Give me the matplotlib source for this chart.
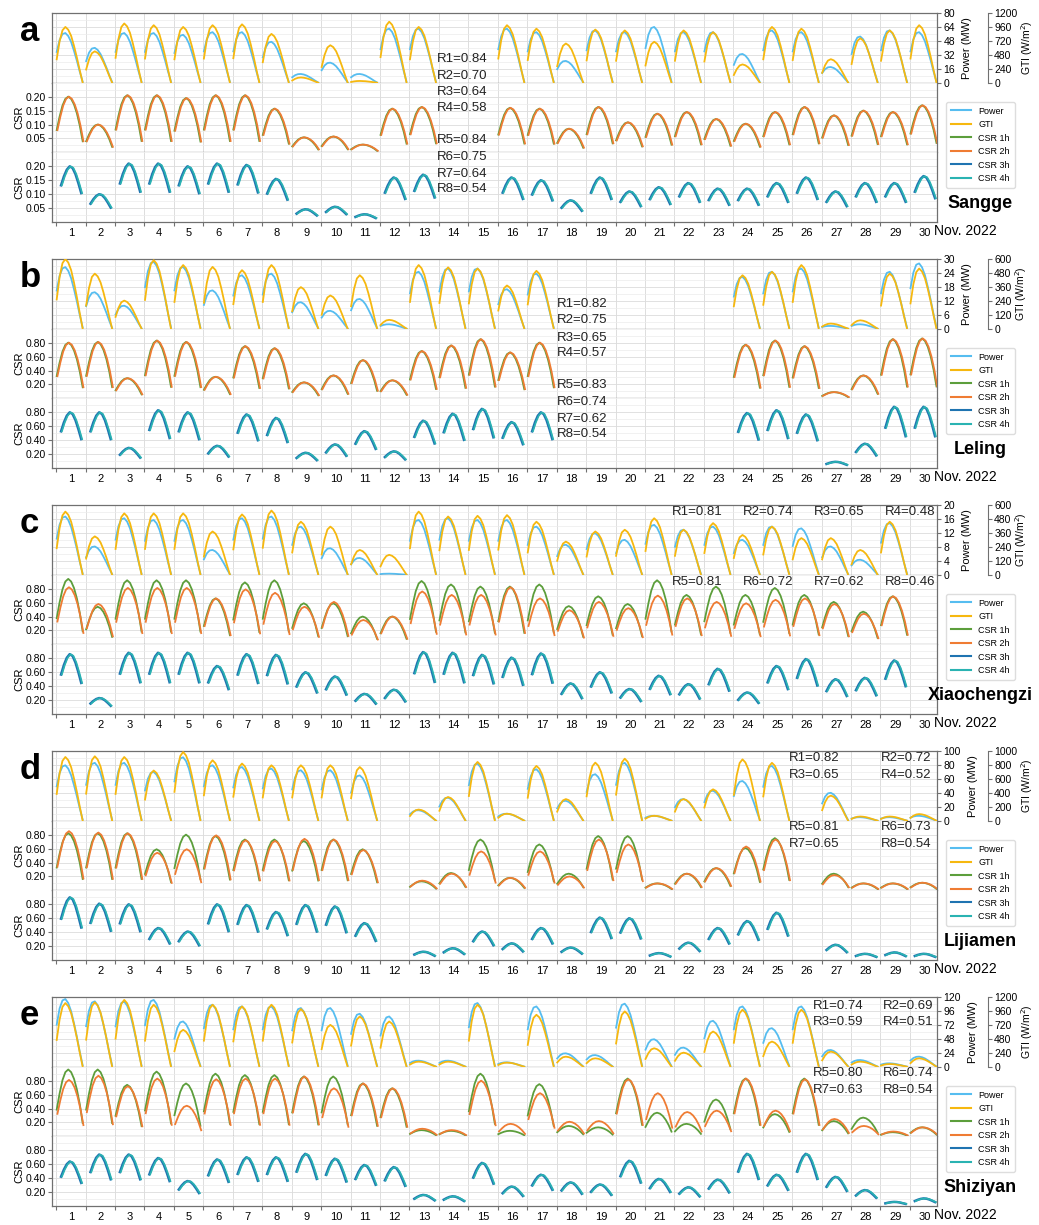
import numpy as np
import matplotlib
matplotlib.use('Agg')
import matplotlib.pyplot as plt
from matplotlib.ticker import MultipleLocator, FixedLocator, NullFormatter, FormatStrFormatter, FixedFormatter
from matplotlib.lines import Line2D

plt.rcParams['font.family'] = ['Liberation Sans', 'DejaVu Sans']

nan = np.nan
days = list(range(1, 31))

# hour of the day of the samples (1h/2h series start at sunrise, 3h/4h start later)
hours = [8, 9, 10, 11, 12, 13, 14, 15, 16, 17]
hours_late = [9.5, 10.5, 11.5, 12.5, 13.5, 14.5, 15.5, 16.5]

# typical daily shape, read off the clear days (fraction of that day's peak)
power_shape = [0.62, 0.86, 0.98, 1.0, 0.94, 0.82, 0.64, 0.44, 0.22, 0.02]
gti_shape = [0.42, 0.74, 0.94, 1.0, 0.95, 0.84, 0.66, 0.45, 0.22, 0.0]
csr12_shape = [0.4, 0.64, 0.84, 0.96, 1.0, 0.96, 0.86, 0.7, 0.48, 0.2]
csr34_shape = [0.66, 0.82, 0.94, 1.0, 0.97, 0.86, 0.7, 0.52]

# ---- a: Sangge (daily peak values) ----
sangge_power = [57, 40, 57, 57, 55, 58, 58, 47, 10, 23, 10, 62, 62, nan, nan,
                62, 58, 25, 60, 58, 64, 58, 58, 33, 60, 58, 18, 53, 60, 58]
sangge_gti = [960, 540, 1020, 990, 960, 990, 1005, 840, 90, 645, 30, 1050, 960, nan, nan,
              990, 930, 675, 915, 900, 705, 900, 870, 315, 960, 930, 405, 765, 900, 990]
sangge_csr1 = [0.20, 0.10, 0.205, 0.205, 0.195, 0.205, 0.205, 0.157, 0.054, 0.057, 0.028, 0.157, 0.163, nan, nan,
               0.16, 0.157, 0.085, 0.163, 0.108, 0.139, 0.145, 0.12, 0.103, 0.145, 0.163, 0.133, 0.15, 0.145, 0.169]
sangge_csr2 = [0.20, 0.10, 0.205, 0.205, 0.195, 0.205, 0.205, 0.157, 0.054, 0.057, 0.028, 0.157, 0.163, nan, nan,
               0.16, 0.157, 0.085, 0.163, 0.108, 0.139, 0.145, 0.12, 0.103, 0.145, 0.163, 0.133, 0.15, 0.145, 0.169]
sangge_csr3 = [0.20, 0.10, 0.21, 0.21, 0.20, 0.21, 0.205, 0.155, 0.046, 0.055, 0.028, 0.16, 0.17, nan, nan,
               0.16, 0.15, 0.078, 0.16, 0.11, 0.125, 0.14, 0.12, 0.12, 0.14, 0.16, 0.11, 0.14, 0.14, 0.165]
sangge_csr4 = sangge_csr3

# ---- b: Leling ----
leling_power = [26.5, 15.7, 9.9, 28.8, 26.6, 16.5, 23, 23.7, 11.4, 7.7, 12.8, 1.9, 24.5, 25.9, 25.9,
                17, 23.7, nan, nan, nan, nan, nan, nan, 22.3, 24.5, 25.9, 1.2, 1.9, 24.5, 28.1]
leling_gti = [600, 474, 242, 590, 548, 532, 504, 548, 358, 286, 460, 76, 548, 528, 518,
              372, 498, nan, nan, nan, nan, nan, nan, 460, 490, 548, 44, 72, 474, 518]
leling_csr1 = [0.80, 0.81, 0.29, 0.83, 0.81, 0.31, 0.75, 0.72, 0.23, 0.33, 0.55, 0.26, 0.68, 0.76, 0.85,
               0.66, 0.80, nan, nan, nan, nan, nan, nan, 0.77, 0.83, 0.75, 0.09, 0.33, 0.85, 0.86]
leling_csr2 = leling_csr1
leling_csr3 = [0.80, 0.80, 0.29, 0.83, 0.80, 0.32, 0.77, 0.72, 0.22, 0.34, 0.53, 0.24, 0.68, 0.78, 0.85,
               0.66, 0.80, nan, nan, nan, nan, nan, nan, 0.79, 0.83, 0.77, 0.09, 0.35, 0.88, 0.88]
leling_csr4 = leling_csr3

# ---- c: Xiaochengzi ----
xiao_power = [16.7, 8.1, 16.2, 15.7, 15.7, 7.1, 16.2, 16.7, 13.8, 7.6, 4.8, 0.3, 15.7, 16.2, 15.7,
              15.7, 13.8, 8.6, 11.9, 10, 14.3, 12.9, 13.8, 10, 13.8, 13.3, 8.1, 4.3, 14.8, nan]
xiao_gti = [543, 330, 528, 528, 528, 372, 519, 552, 456, 414, 213, 171, 543, 501, 507,
            513, 456, 285, 372, 387, 486, 387, 444, 342, 414, 315, 315, 213, 456, nan]
xiao_csr1 = [0.94, 0.54, 0.92, 0.92, 0.92, 0.66, 0.89, 0.92, 0.59, 0.59, 0.40, 0.40, 0.91, 0.86, 0.83,
             0.83, 0.86, 0.55, 0.69, 0.58, 0.92, 0.71, 0.83, 0.71, 0.81, 0.71, 0.61, 0.47, 0.69, nan]
xiao_csr2 = [0.82, 0.58, 0.81, 0.81, 0.81, 0.66, 0.79, 0.74, 0.54, 0.61, 0.35, 0.40, 0.76, 0.71, 0.71,
             0.82, 0.66, 0.49, 0.61, 0.52, 0.70, 0.66, 0.61, 0.59, 0.64, 0.66, 0.58, 0.44, 0.69, nan]
xiao_csr3 = [0.86, 0.23, 0.88, 0.88, 0.88, 0.69, 0.86, 0.85, 0.60, 0.54, 0.29, 0.35, 0.89, 0.88, 0.85,
             0.81, 0.87, 0.44, 0.60, 0.36, 0.55, 0.43, 0.65, 0.31, 0.69, 0.79, 0.50, 0.52, 0.77, nan]
xiao_csr4 = xiao_csr3

# ---- d: Lijiamen ----
lijia_power = [79.5, 83, 83, 70, 91, 79.5, 77, 74.8, 72.4, 72.4, 65, nan, 15, 33, 81.9,
               10, 73.8, 28.6, 66.7, 83, 7, 31, 43, 57, 78.6, nan, 40, 5, 5, 7]
lijia_gti = [914, 924, 914, 720, 986, 867, 820, 795, 795, 795, 770, nan, 160, 340, 843,
             100, 786, 310, 833, 890, 70, 310, 450, 880, 830, nan, 360, 60, 60, 95]
lijia_csr1 = [0.82, 0.82, 0.82, 0.59, 0.80, 0.78, 0.73, 0.73, 0.71, 0.73, 0.59, nan, 0.13, 0.25, 0.73,
              0.18, 0.66, 0.24, 0.78, 0.78, 0.10, 0.24, 0.32, 0.61, 0.75, nan, 0.24, 0.10, 0.10, 0.11]
lijia_csr2 = [0.85, 0.83, 0.82, 0.54, 0.59, 0.79, 0.72, 0.71, 0.74, 0.73, 0.58, nan, 0.14, 0.24, 0.56,
              0.18, 0.56, 0.20, 0.73, 0.66, 0.10, 0.24, 0.32, 0.63, 0.73, nan, 0.22, 0.10, 0.10, 0.11]
lijia_csr3 = [0.90, 0.81, 0.80, 0.46, 0.41, 0.80, 0.79, 0.69, 0.79, 0.77, 0.53, nan, 0.12, 0.17, 0.41,
              0.24, 0.46, 0.18, 0.61, 0.60, 0.10, 0.25, 0.46, 0.56, 0.68, nan, 0.22, 0.09, 0.11, 0.09]
lijia_csr4 = lijia_csr3

# ---- e: Shiziyan ----
shizi_power = [116.5, 112.5, 112, 115, 77.9, 106.7, 103.8, 103.8, 101, 101, 91.2, 86.5, 10.4, 10.4, 109.6,
               7.5, 103.8, 23, 20, 108.5, 47.3, 32.9, 79, 103.8, 66.3, 103.8, 28.8, 11.5, 5.8, 17.3]
shizi_gti = [1096, 1108, 1150, 1067, 635, 1067, 1038, 1067, 992, 720, 865, 779, 87, 87, 1067,
             70, 894, 173, 144, 952, 317, 242, 606, 980, 433, 980, 260, 87, 46, 144]
shizi_csr1 = [0.96, 0.96, 0.74, 0.93, 0.76, 0.90, 0.88, 0.88, 0.86, 0.86, 0.76, 0.69, 0.09, 0.08, 0.90,
              0.08, 0.75, 0.15, 0.13, 0.83, 0.34, 0.18, 0.53, 0.83, 0.32, 0.83, 0.22, 0.27, 0.06, 0.13]
shizi_csr2 = [0.81, 0.87, 0.72, 0.83, 0.44, 0.82, 0.83, 0.83, 0.86, 0.69, 0.76, 0.69, 0.11, 0.09, 0.80,
              0.18, 0.62, 0.21, 0.22, 0.82, 0.62, 0.35, 0.37, 0.83, 0.37, 0.82, 0.25, 0.15, 0.07, 0.13]
shizi_csr3 = [0.64, 0.74, 0.74, 0.69, 0.36, 0.67, 0.70, 0.70, 0.75, 0.68, 0.59, 0.56, 0.16, 0.14, 0.62,
              0.28, 0.45, 0.34, 0.31, 0.65, 0.39, 0.27, 0.38, 0.75, 0.45, 0.75, 0.42, 0.23, 0.06, 0.11]
shizi_csr4 = shizi_csr3

station_names = ['Sangge', 'Leling', 'Xiaochengzi', 'Lijiamen', 'Shiziyan']
panel_letters = ['a', 'b', 'c', 'd', 'e']
power_max = [80, 30, 20, 100, 120]
gti_max = [1200, 600, 600, 1000, 1200]
csr_ticks = [[0.05, 0.10, 0.15, 0.20]] + [[0.20, 0.40, 0.60, 0.80]] * 4
csr_top = [0.25, 1.0, 1.0, 1.0, 1.0]
r_values = [
    [0.84, 0.70, 0.64, 0.58, 0.84, 0.75, 0.64, 0.54],
    [0.82, 0.75, 0.65, 0.57, 0.83, 0.74, 0.62, 0.54],
    [0.81, 0.74, 0.65, 0.48, 0.81, 0.72, 0.62, 0.46],
    [0.82, 0.72, 0.65, 0.52, 0.81, 0.73, 0.65, 0.54],
    [0.74, 0.69, 0.59, 0.51, 0.80, 0.74, 0.63, 0.54],
]
data = [
    (sangge_power, sangge_gti, sangge_csr1, sangge_csr2, sangge_csr3, sangge_csr4),
    (leling_power, leling_gti, leling_csr1, leling_csr2, leling_csr3, leling_csr4),
    (xiao_power, xiao_gti, xiao_csr1, xiao_csr2, xiao_csr3, xiao_csr4),
    (lijia_power, lijia_gti, lijia_csr1, lijia_csr2, lijia_csr3, lijia_csr4),
    (shizi_power, shizi_gti, shizi_csr1, shizi_csr2, shizi_csr3, shizi_csr4),
]

# R text positions in pixels (left x, center y)
r_pos = [
    [(437, 59), (437, 76), (437, 92), (437, 108), (437, 140), (437, 157), (437, 174), (437, 189)],
    [(557, 304), (557, 320), (557, 338), (557, 353), (557, 385), (557, 402), (557, 419), (557, 434)],
    [(672, 512), (743, 512), (814, 512), (885, 512), (672, 582), (743, 582), (814, 582), (885, 582)],
    [(789, 758), (881, 758), (789, 775), (881, 775), (789, 827), (881, 827), (789, 844), (881, 844)],
    [(813, 1006), (883, 1006), (813, 1022), (883, 1022), (813, 1073), (883, 1073), (813, 1090), (883, 1090)],
]

c_power = '#56bdf0'
c_gti = '#f6b80f'
c_csr1 = '#5c9e3b'
c_csr2 = '#ef7c33'
c_csr3 = '#1f74b1'
c_csr4 = '#2ab3b2'

W, H = 1039, 1225
fig = plt.figure(figsize=(W / 100, H / 100), dpi=100)


def fx(x):
    return x / W


def fy(y):
    return 1 - y / H


def day_series(peaks, shape, hrs, shift=0.0):
    # one segment per day, separated by nan so days are not joined
    xs, ys = [], []
    for d, pk in zip(days, peaks):
        for h, s in zip(hrs, shape):
            xs.append(d - 1 + (h - 7.8) / 10.2 + shift)
            ys.append(pk * s)
        xs.append(nan)
        ys.append(nan)
    return xs, ys


left_px, right_px = 52, 937
panel_top = [13, 259, 505, 751, 997]
sub_h = 69.7
spine_c = '#707070'

for i in range(5):
    power, gti, csr1, csr2, csr3, csr4 = data[i]
    top = panel_top[i]
    axs = []
    for k in range(3):
        ax = fig.add_axes([fx(left_px), fy(top + (k + 1) * sub_h),
                           (right_px - left_px) / W, sub_h / H])
        ax.set_xlim(-0.14, 29.92)
        ax.xaxis.set_major_locator(FixedLocator(np.arange(0, 31)))
        ax.xaxis.set_minor_locator(FixedLocator(np.arange(0.5, 30, 1)))
        ax.xaxis.set_major_formatter(NullFormatter())
        ax.grid(True, which='major', axis='x', color='#d8d8d8', lw=0.6)
        ax.grid(True, which='major', axis='y', color='#dcdcdc', lw=0.6)
        ax.grid(True, which='minor', axis='y', color='#ececec', lw=0.5)
        ax.set_axisbelow(True)
        for s in ax.spines.values():
            s.set_color(spine_c)
            s.set_linewidth(0.9)
        if k < 2:
            ax.tick_params(axis='x', which='both', length=0, labelbottom=False)
        axs.append(ax)

    # top: power (ticks on right) and GTI on an offset right axis
    ax = axs[0]
    tw = ax.twinx()
    xp, yp = day_series(power, power_shape, hours)
    ax.plot(xp, yp, color=c_power, lw=1.3)
    ax.set_ylim(0, power_max[i])
    ax.yaxis.set_major_locator(MultipleLocator(power_max[i] / 5))
    ax.yaxis.set_minor_locator(MultipleLocator(power_max[i] / 10))
    ax.yaxis.set_major_formatter(FormatStrFormatter('%g'))
    ax.yaxis.tick_right()
    ax.tick_params(axis='y', which='major', left=False, labelleft=False, right=True, labelright=True,
                   labelsize=7.5, length=3, pad=1.5, color=spine_c)
    ax.tick_params(axis='y', which='minor', left=False, right=False, length=0)
    ax.yaxis.set_label_position('right')
    ax.set_ylabel('Power (MW)', fontsize=8, labelpad=5)
    ax.spines['bottom'].set_color('#606060')

    xg, yg = day_series(gti, gti_shape, hours)
    tw.plot(xg, yg, color=c_gti, lw=1.3)
    tw.set_ylim(0, gti_max[i])
    tw.yaxis.set_major_locator(MultipleLocator(gti_max[i] / 5))
    tw.yaxis.set_major_formatter(FormatStrFormatter('%g'))
    tw.spines['right'].set_position(('outward', 37))
    for name in ['left', 'top', 'bottom']:
        tw.spines[name].set_visible(False)
    tw.spines['right'].set_color(spine_c)
    tw.spines['right'].set_linewidth(0.8)
    tw.tick_params(axis='y', labelsize=7.5, length=3, pad=1.2, color=spine_c)
    tw.set_ylabel('GTI (W/m$^2$)', fontsize=7.5, labelpad=1)

    # middle: CSR 1h / 2h
    ax = axs[1]
    x1, y1 = day_series(csr1, csr12_shape, hours)
    x2, y2 = day_series(csr2, csr12_shape, hours, shift=0.025)
    ax.plot(x1, y1, color=c_csr1, lw=1.3)
    ax.plot(x2, y2, color=c_csr2, lw=1.3)
    ax.spines['top'].set_visible(False)
    ax.spines['bottom'].set_linestyle((0, (1, 1)))

    # bottom: CSR 3h / 4h
    ax = axs[2]
    x3, y3 = day_series(csr3, csr34_shape, hours_late)
    x4, y4 = day_series(csr4, csr34_shape, hours_late, shift=0.03)
    ax.plot(x3, y3, color=c_csr3, lw=1.8)
    ax.plot(x4, y4, color=c_csr4, lw=1.2)
    ax.spines['top'].set_visible(False)
    ax.xaxis.set_minor_formatter(FixedFormatter([str(d) for d in days]))
    ax.tick_params(axis='x', which='major', length=3, direction='out', color=spine_c)
    ax.tick_params(axis='x', which='minor', length=0, labelsize=8, pad=4)

    for ax in axs[1:]:
        ax.set_ylim(0, csr_top[i])
        ax.yaxis.set_major_locator(FixedLocator(csr_ticks[i]))
        step = csr_ticks[i][1] - csr_ticks[i][0]
        ax.yaxis.set_minor_locator(MultipleLocator(step / 2))
        ax.yaxis.set_major_formatter(FormatStrFormatter('%.2f'))
        ax.tick_params(axis='y', which='major', labelsize=7.5, length=3, pad=1.5, color=spine_c)
        ax.tick_params(axis='y', which='minor', length=0)
        ax.set_ylabel('CSR', fontsize=8, labelpad=1)

    fig.text(fx(20), fy(top + 28), panel_letters[i], fontsize=25, fontweight='bold', va='baseline')
    fig.text(fx(980), fy(top + 190), station_names[i], fontsize=13, fontweight='bold',
             ha='center', va='center')
    fig.text(fx(934), fy(top + 218), 'Nov. 2022', fontsize=10, ha='left', va='center')
    for j, (rx, ry) in enumerate(r_pos[i]):
        fig.text(fx(rx), fy(ry), 'R%d=%.2f' % (j + 1, r_values[i][j]), fontsize=9.5,
                 ha='left', va='center', color='#222222')

    handles = [Line2D([], [], color=c, lw=1.5) for c in [c_power, c_gti, c_csr1, c_csr2, c_csr3, c_csr4]]
    labels = ['Power', 'GTI', 'CSR 1h', 'CSR 2h', 'CSR 3h', 'CSR 4h']
    fig.legend(handles, labels, loc='upper left', bbox_to_anchor=(fx(946), fy(top + 89)),
               fontsize=6.5, handlelength=2.3, labelspacing=0.5, borderpad=0.5,
               edgecolor='#dddddd', fancybox=True, framealpha=1, borderaxespad=0)

fig.savefig('out.png', dpi=100)
